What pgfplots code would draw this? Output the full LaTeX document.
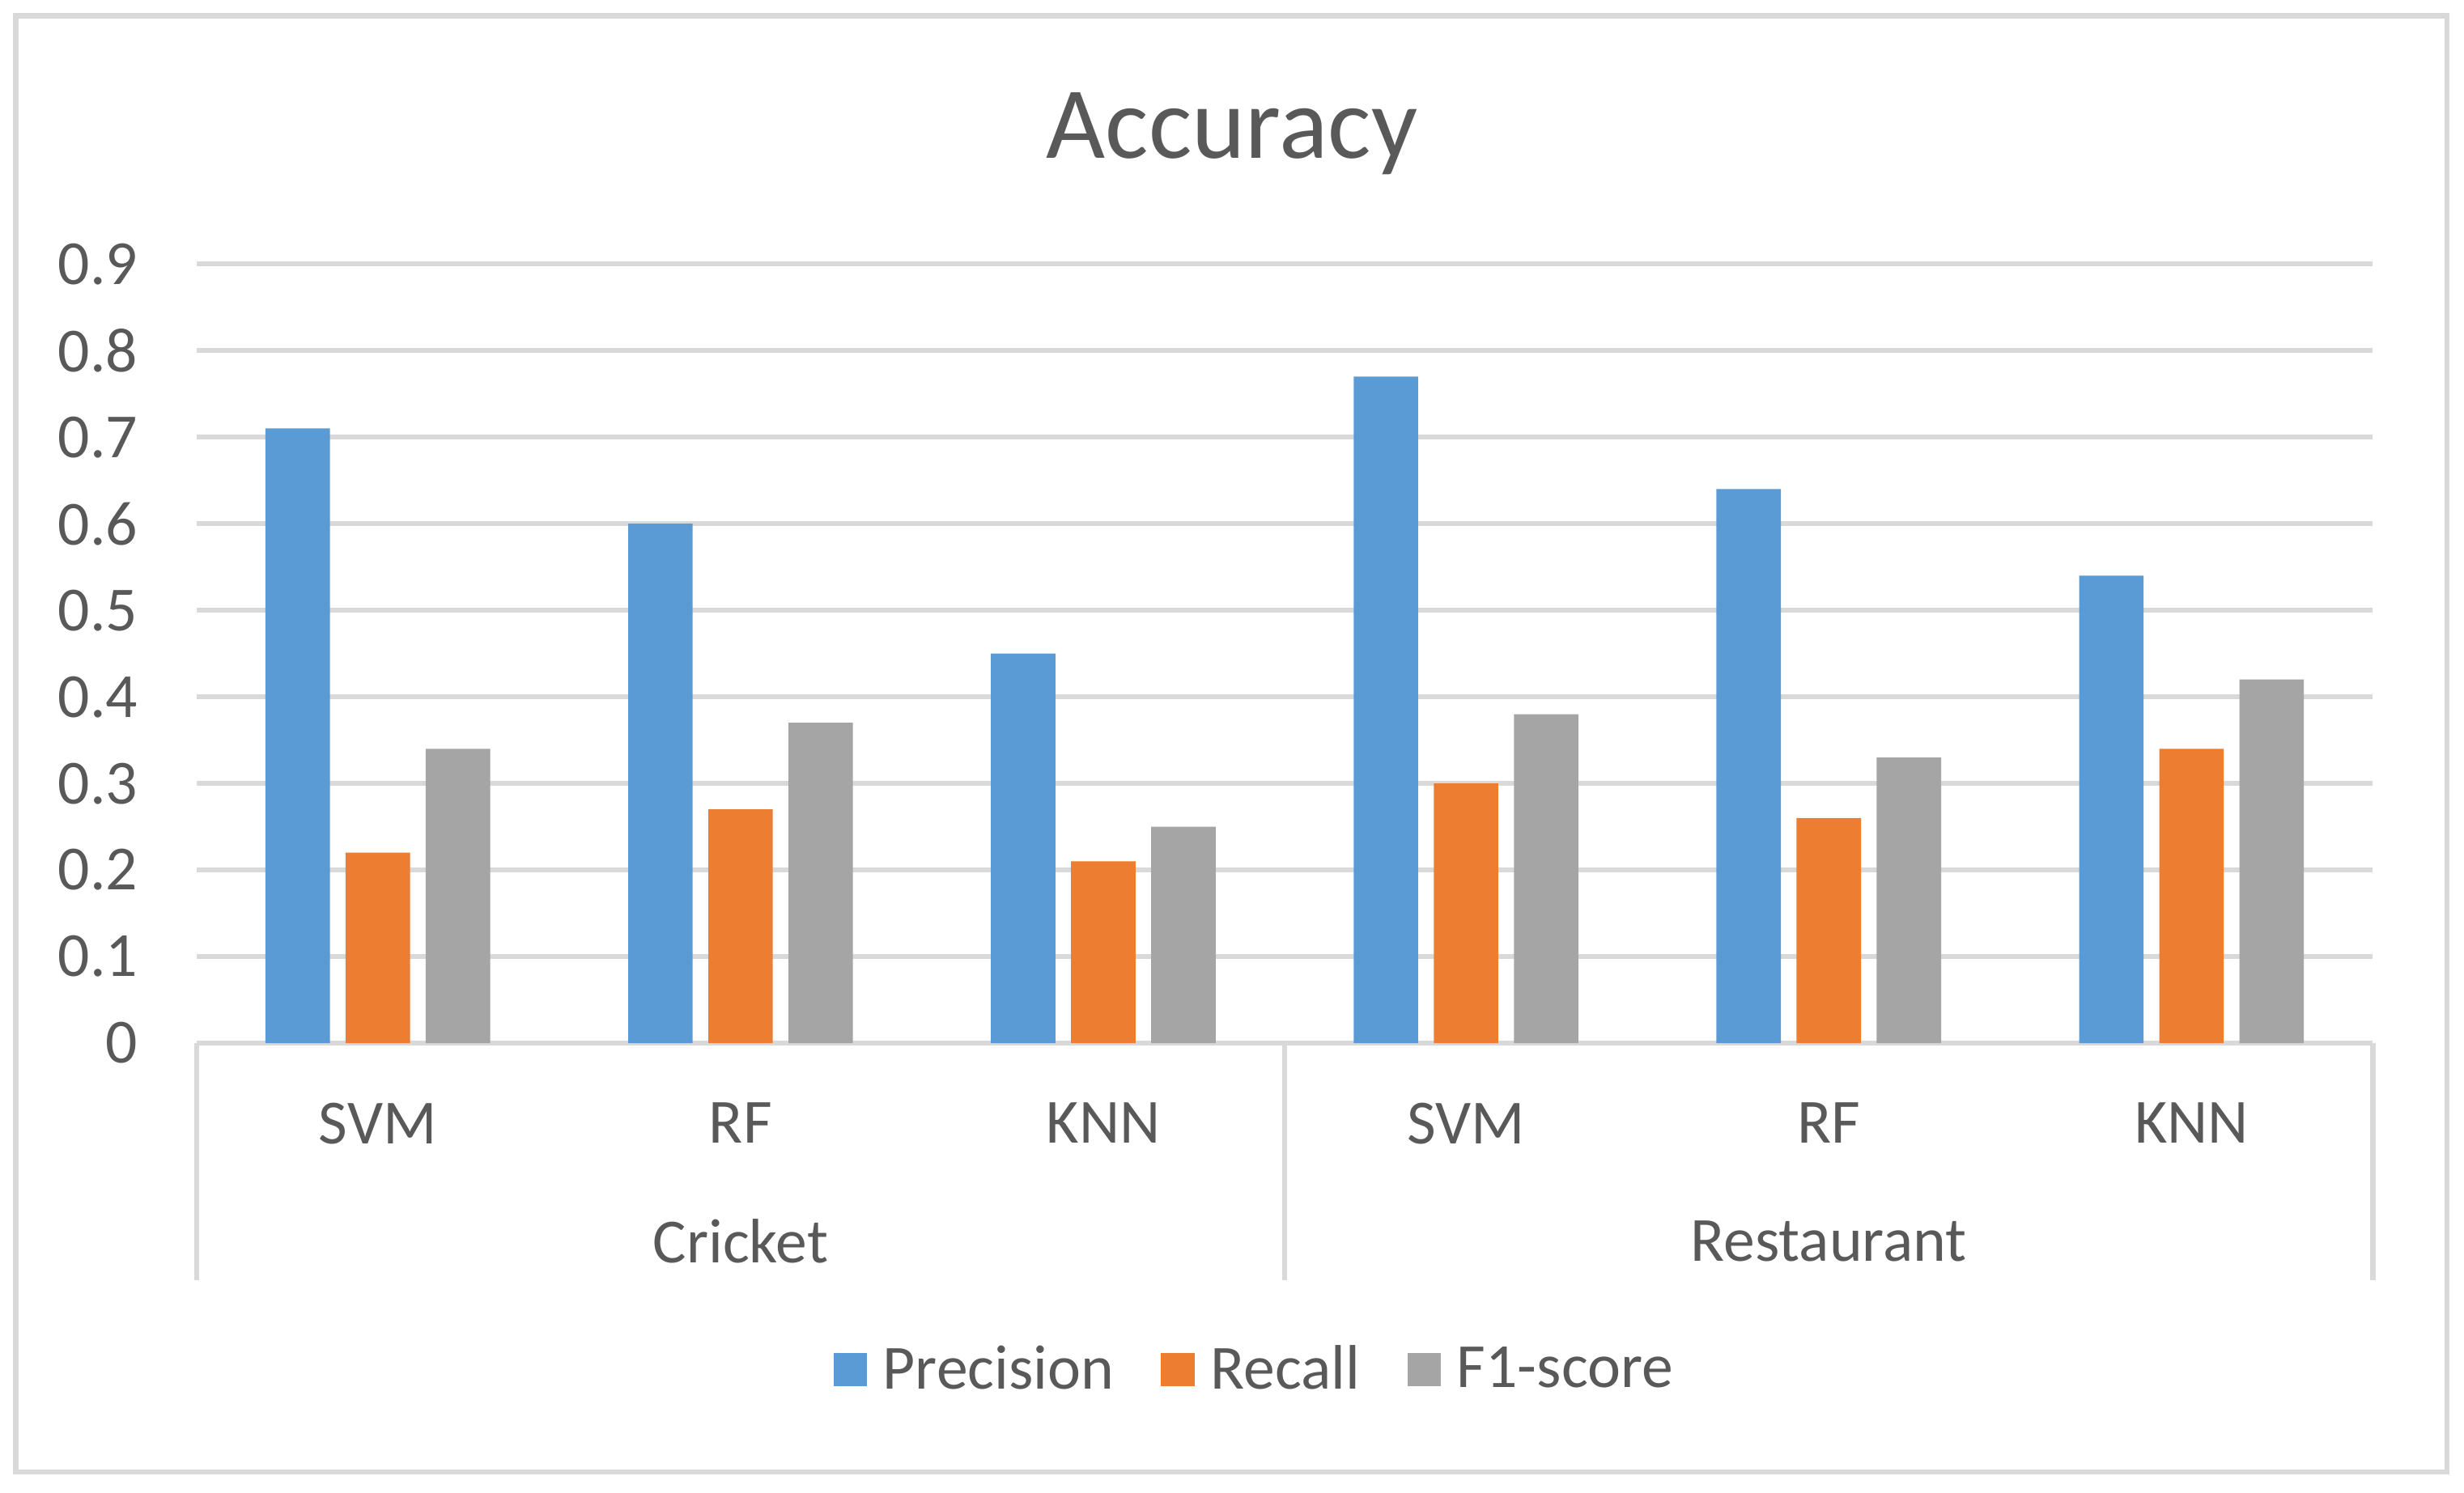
\documentclass[border=0pt]{standalone}
\usepackage{pgfplots}
\usepackage{pgfplotstable}
\pgfplotsset{compat=1.18}
\usepackage{fontspec}
\setmainfont{Carlito}
\definecolor{cblue}{HTML}{5B9BD5}
\definecolor{corange}{HTML}{ED7D31}
\definecolor{cgray}{HTML}{A5A5A5}
\definecolor{gridc}{HTML}{D9D9D9}
\definecolor{txt}{HTML}{595959}
\pgfplotstableread{
x p r f
0 0.71 0.22 0.34
1 0.60 0.27 0.37
2 0.45 0.21 0.25
3 0.77 0.30 0.38
4 0.64 0.26 0.33
5 0.54 0.34 0.42
}\datatable
\begin{document}
\begin{tikzpicture}
\path[use as bounding box] (-62.5pt,-143pt) rectangle (721.5pt,332pt);
\draw[gridc, line width=1.6pt] (-57.5pt,-136.5pt) rectangle (716pt,327pt);
\begin{axis}[
  at={(0pt,0pt)}, anchor=south west,
  scale only axis, width=692.5pt, height=248pt,
  xmin=-0.5, xmax=5.5, ymin=0, ymax=0.9,
  clip=false,
  ybar=5pt, bar width=20.5pt,
  axis line style={draw=none},
  xtick pos=bottom, ytick pos=left,
  ytick={0,0.1,0.2,0.3,0.4,0.5,0.6,0.7,0.8,0.9},
  yticklabels={0,0.1,0.2,0.3,0.4,0.5,0.6,0.7,0.8,0.9},
  xtick={0,1,2,3,4,5},
  xticklabels={SVM,RF,KNN,SVM,RF,KNN},
  major tick length=0pt,
  ymajorgrids,
  grid style={gridc, line width=1.6pt},
  yticklabel style={anchor=east, inner sep=0pt, xshift=-18.5pt, text=txt, font=\fontsize{20}{24}\selectfont},
  xticklabel style={anchor=center, inner sep=0pt, yshift=-25.5pt, text=txt, font=\fontsize{20}{24}\selectfont},
  extra x ticks={-0.5,2.5,5.5},
  extra x tick labels={},
  extra x tick style={grid=none, major tick length=75.5pt, tick align=outside, tick style={gridc, line width=1.6pt}},
  legend style={at={(0.487,-0.419)}, anchor=center, draw=none, fill=none,
    legend columns=3, font=\fontsize{20}{24}\selectfont, text=txt,
    /tikz/every odd column/.append style={column sep=3pt},
    /tikz/every even column/.append style={column sep=13pt}},
  legend image code/.code={\path[#1, draw=none] (0pt,-5.4pt) rectangle (10.8pt,5.4pt);},
]
\addplot[fill=cblue, draw=none] table[x=x, y=p] {\datatable};
\addplot[fill=corange, draw=none] table[x=x, y=r] {\datatable};
\addplot[fill=cgray, draw=none] table[x=x, y=f] {\datatable};
\legend{Precision, Recall, F1-score}
\node[text=txt, font=\fontsize{20}{24}\selectfont] at (axis cs:1,0) [yshift=-63pt] {Cricket};
\node[text=txt, font=\fontsize{20}{24}\selectfont] at (axis cs:4,0) [yshift=-63pt] {Restaurant};
\end{axis}
\node[text=txt, font=\fontsize{32.5}{39}\selectfont] at (329.5pt,289.5pt) {Accuracy};
\end{tikzpicture}
\end{document}
